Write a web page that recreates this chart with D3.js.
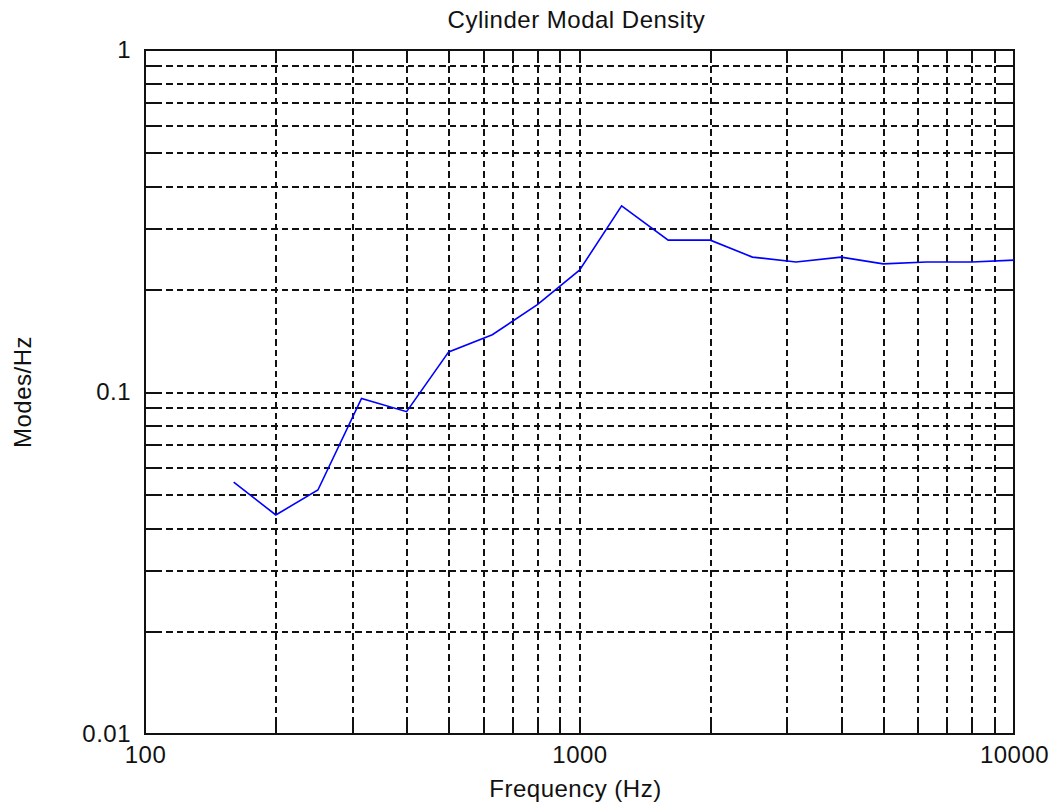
<!DOCTYPE html>
<html>
<head>
<meta charset="utf-8">
<script src="https://cdn.jsdelivr.net/npm/d3@7"></script>
<style>
    body { margin: 0; background: #fff; }
    svg text { font-family: "Liberation Sans", Arial, sans-serif; fill: #111; letter-spacing: 0.5px; }
</style>
</head>
<body>
<svg id="chart" width="1055" height="812"></svg>
<script>
// one-third octave bands and the modal density
var frequencies = [160, 200, 250, 315, 400, 500, 630, 800, 1000, 1250, 1600, 2000, 2500, 3150, 4000, 5000, 6300, 8000, 10000];
var modesPerHz = [0.0545, 0.0437, 0.0517, 0.0958, 0.0876, 0.131, 0.147, 0.180, 0.227, 0.350, 0.278, 0.278, 0.248, 0.240, 0.248, 0.237, 0.240, 0.240, 0.243];

var xTickValues = [100, 1000, 10000];
var xTickLabels = ["100", "1000", "10000"];
var yTickValues = [0.01, 0.1, 1];
var yTickLabels = ["0.01", "0.1", "1"];

var title = "Cylinder Modal Density";
var xTitle = "Frequency (Hz)";
var yTitle = "Modes/Hz";

var margin = { top: 50, right: 41, bottom: 78, left: 145 };
var width = 1055 - margin.left - margin.right;
var height = 812 - margin.top - margin.bottom;

var svg = d3.select("#chart");
var g = svg.append("g").attr("transform", "translate(" + margin.left + "," + margin.top + ")");

var x = d3.scaleLog().domain([100, 10000]).range([0, width]);
var y = d3.scaleLog().domain([0.01, 1]).range([height, 0]);

// every 1..9 multiple inside the decades for the grid
function decadeSteps(lo, hi) {
    var out = [];
    for (var p = lo; p < hi; p *= 10) {
        for (var k = 1; k <= 9; k++) {
            var v = +(p * k).toPrecision(3);
            if (v > lo && v < hi) out.push(v);
        }
    }
    return out;
}
var xGrid = decadeSteps(100, 10000);
var yGrid = decadeSteps(0.01, 1);

var gridStyle = function (sel) {
    sel.select(".domain").remove();
    sel.selectAll(".tick text").remove();
    sel.selectAll(".tick line")
        .attr("stroke", "#111").attr("stroke-width", 2)
        .attr("stroke-dasharray", "6.5,4").attr("shape-rendering", "crispEdges");
};

g.append("g").attr("class", "grid x")
    .attr("transform", "translate(0," + height + ")")
    .call(d3.axisBottom(x).tickValues(xGrid).tickSize(-height).tickFormat(""))
    .call(gridStyle);

g.append("g").attr("class", "grid y")
    .call(d3.axisLeft(y).tickValues(yGrid).tickSize(-width).tickFormat(""))
    .call(gridStyle);

// inner ticks on all four sides, like the original box
var tickLen = 13;
var solidTicks = function (sel) {
    sel.select(".domain").remove();
    sel.selectAll(".tick text").remove();
    sel.selectAll(".tick line").attr("stroke", "#111").attr("stroke-width", 2).attr("shape-rendering", "crispEdges");
};
g.append("g").attr("transform", "translate(0," + height + ")")
    .call(d3.axisTop(x).tickValues(xGrid).tickSize(tickLen).tickFormat("")).call(solidTicks);
g.append("g")
    .call(d3.axisBottom(x).tickValues(xGrid).tickSize(tickLen).tickFormat("")).call(solidTicks);
g.append("g")
    .call(d3.axisRight(y).tickValues(yGrid).tickSize(tickLen).tickFormat("")).call(solidTicks);
g.append("g").attr("transform", "translate(" + width + ",0)")
    .call(d3.axisLeft(y).tickValues(yGrid).tickSize(tickLen).tickFormat("")).call(solidTicks);

// tick labels
var xAxis = g.append("g").attr("class", "axis x")
    .attr("transform", "translate(0," + height + ")")
    .call(d3.axisBottom(x).tickValues(xTickValues).tickSize(0).tickPadding(12)
        .tickFormat(function (d, i) { return xTickLabels[i]; }));
xAxis.select(".domain").remove();
xAxis.selectAll("text").attr("font-size", 24).attr("font-family", null).attr("fill", null);

var yAxis = g.append("g").attr("class", "axis y")
    .call(d3.axisLeft(y).tickValues(yTickValues).tickSize(0).tickPadding(14)
        .tickFormat(function (d, i) { return yTickLabels[i]; }));
yAxis.select(".domain").remove();
yAxis.selectAll("text").attr("font-size", 24).attr("font-family", null).attr("fill", null);

// frame
g.append("rect")
    .attr("width", width).attr("height", height)
    .attr("fill", "none").attr("stroke", "#111").attr("stroke-width", 2)
    .attr("shape-rendering", "crispEdges");

// data line
var line = d3.line()
    .x(function (d, i) { return x(frequencies[i]); })
    .y(function (d) { return y(d); });

g.append("path")
    .datum(modesPerHz)
    .attr("fill", "none")
    .attr("stroke", "#0000ff")
    .attr("stroke-width", 1.6)
    .attr("d", line);

// titles
svg.append("text")
    .attr("x", margin.left + width / 2 - 3).attr("y", 28)
    .attr("text-anchor", "middle").attr("font-size", 24)
    .text(title);

svg.append("text")
    .attr("x", margin.left + width / 2 - 4).attr("y", 797)
    .attr("text-anchor", "middle").attr("font-size", 24)
    .text(xTitle);

svg.append("text")
    .attr("transform", "translate(31," + (margin.top + height / 2) + ") rotate(-90)")
    .attr("text-anchor", "middle").attr("font-size", 24)
    .text(yTitle);
</script>
</body>
</html>
